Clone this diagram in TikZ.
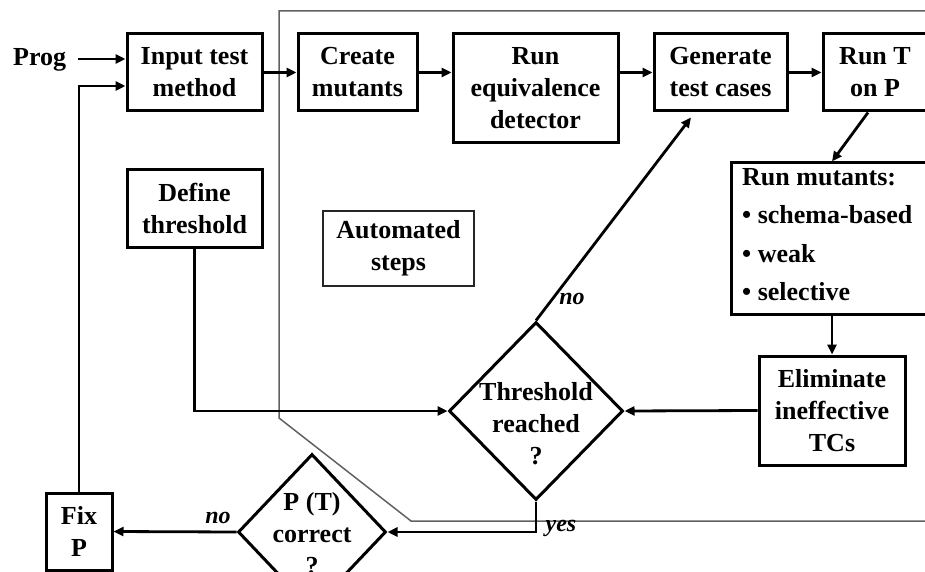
\documentclass[tikz,border=0pt]{standalone}
\usepackage{fontspec}
\setmainfont{Liberation Serif}
\usetikzlibrary{arrows.meta,shapes.geometric,calc}
\begin{document}
\begin{tikzpicture}[x=1pt,y=-1pt,
  txt/.style={font=\fontsize{26}{32}\selectfont\bfseries,align=center,inner sep=0pt},
  box/.style={txt,draw,line width=3pt},
  dia/.style={draw,diamond,line width=3pt,inner sep=0pt},
  arr/.style={line width=2.8pt,-{Triangle[length=10pt,width=9pt]}},
  lab/.style={font=\fontsize{24}{28}\selectfont\bfseries\itshape,inner sep=0pt},
  frame/.style={draw=black!62,line width=1.5pt}]
\useasboundingbox (0,0) rectangle (925,572);
\clip (0,0) rectangle (925,572);
% automated region frame
\coordinate (fa) at (940,11);
\coordinate (fb) at (279,11);
\coordinate (fc) at (279,418);
\coordinate (fd) at (411,521);
\coordinate (fe) at (940,521);
\draw[frame] (fa) -- (fb) -- (fc) -- (fd) -- (fe);
% nodes
\node[txt,anchor=base west] (prog) at (13,66) {Prog};
\node[box,minimum width=135pt,minimum height=77pt] (inp) at (194.5,72.5) {Input test\\method};
\node[box,minimum width=119pt,minimum height=77pt] (cre) at (357.5,72.5) {Create\\mutants};
\node[box,minimum width=165pt,minimum height=109pt] (equ) at (535.5,88.5) {Run\\equivalence\\detector};
\node[box,minimum width=133pt,minimum height=77pt] (gen) at (720.5,72.5) {Generate\\test cases};
\node[box,minimum width=104pt,minimum height=77pt] (runt) at (875,72.5) {Run T\\on P};
\node[box,minimum width=197pt,minimum height=151pt] (runm) at (829.5,238.5) {};
\node[txt,align=left,anchor=north west,font=\fontsize{26}{38.5}\selectfont\bfseries] (runmtxt) at (742,168) {Run mutants:\\\textbullet{} schema-based\\\textbullet{} weak\\\textbullet{} selective};
\node[box,minimum width=146pt,minimum height=109pt] (elim) at (832,410.5) {Eliminate\\ineffective\\TCs};
\node[dia,minimum width=174pt,minimum height=178pt] (thr) at (536,411) {};
\node[txt] (thrtxt) at (536,424) {Threshold\\reached\\?};
\node[box,minimum width=135pt,minimum height=77pt] (def) at (194.5,208.5) {Define\\threshold};
\node[txt,draw=black!85,line width=1.2pt,minimum width=151pt,minimum height=75pt] (auto) at (398.5,248.5) {Automated\\steps};
\node[dia,minimum width=148pt,minimum height=156pt] (pc) at (312,532) {};
\node[txt] (pctxt) at (312,534) {P (T)\\correct\\?};
\node[box,minimum width=66pt,minimum height=77pt] (fix) at (79,531.5) {Fix\\P};
% connectors
\coordinate (progend) at (78,59);
\draw[arr] (progend) -- (progend -| inp.west);
\draw[arr] (fix.north) |- ([yshift=-13.5pt]inp.west);
\draw[arr] (inp.east) -- (cre.west);
\draw[arr] (cre.east) -- (cre.east -| equ.west);
\draw[arr] (gen.west -| equ.east) -- (gen.west);
\draw[arr] (gen.east) -- (runt.west);
\draw[arr] ([xshift=-7pt]runt.south) -- ([xshift=2.5pt]runm.north);
\draw[arr] (runm.south -| elim.north) -- (elim.north);
\draw[arr] (elim.west) -- (thr.east);
\draw[arr] (def.south) |- (thr.west);
\coordinate (genin) at ([xshift=-29.5pt,yshift=-5pt]gen.south);
\draw[arr] (thr.north) -- (genin);
\draw[arr] (thr.south) |- (pc.east);
\draw[arr] (pc.west) -- (fix.east);
% labels
\node[lab] (lno1) at (572,299) {no};
\node[lab] (lyes) at (561,528) {yes};
\node[lab] (lno2) at (218,518) {no};
\end{tikzpicture}
\end{document}
